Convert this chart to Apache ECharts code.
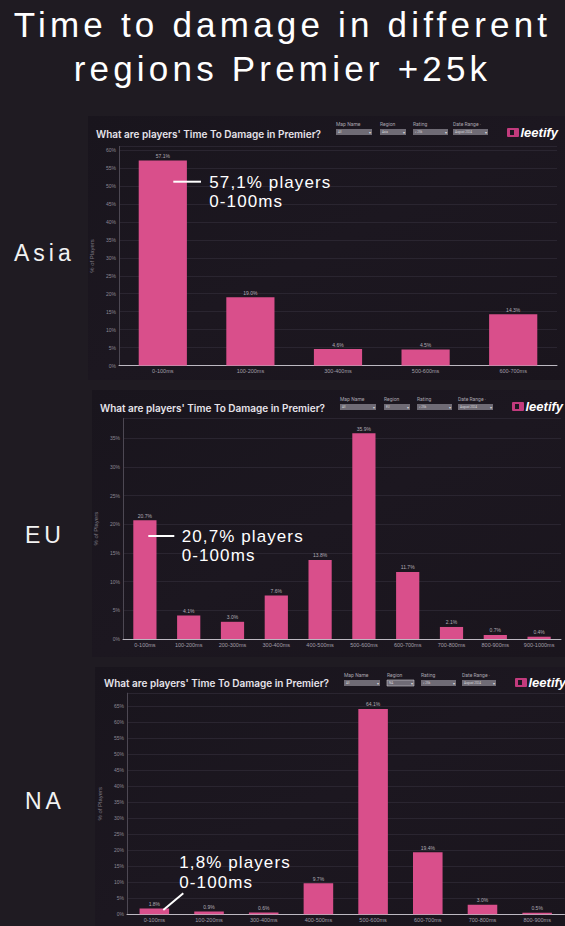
<!DOCTYPE html>
<html>
<head>
<meta charset="utf-8">
<script src="https://cdn.jsdelivr.net/npm/echarts@6/dist/echarts.min.js"></script>
<style>
html,body{margin:0;padding:0;background:#1f1b22;}
#c{width:565px;height:926px;}
#c text[style*="35px"]{letter-spacing:4.2px;}
#c text[style*="23px"]{letter-spacing:4px;}
#c text[style*="17px"]{letter-spacing:1.1px;}
</style>
</head>
<body>
<div id="c"></div>
<script>
const titleLines = ['Time to damage in different', 'regions Premier +25k'];
const regionNames = ['Asia', 'EU', 'NA'];
const panelTitle = "What are players' Time To Damage in Premier?";
const filterLabels = ['Map Name', 'Region', 'Rating', 'Date Range ·'];
const filterValues = [['All', 'Asia', '> 25k', 'August 2024'], ['All', 'EU', '> 25k', 'August 2024'], ['All', 'NA', '> 25k', 'August 2024']];

const asiaCategories = ['0-100ms', '100-200ms', '300-400ms', '500-600ms', '600-700ms'];
const asiaValues = [57.1, 19.0, 4.6, 4.5, 14.3];
const euCategories = ['0-100ms', '100-200ms', '200-300ms', '300-400ms', '400-500ms', '500-600ms', '600-700ms', '700-800ms', '800-900ms', '900-1000ms'];
const euValues = [20.7, 4.1, 3.0, 7.6, 13.8, 35.9, 11.7, 2.1, 0.7, 0.4];
const naCategories = ['0-100ms', '100-200ms', '300-400ms', '400-500ms', '500-600ms', '600-700ms', '700-800ms', '800-900ms'];
const naValues = [1.8, 0.9, 0.6, 9.7, 64.1, 19.4, 3.0, 0.5];
const annotations = [['57,1% players', '0-100ms'], ['20,7% players', '0-100ms'], ['1,8% players', '0-100ms']];
const yTickStep = 5;

const panels = [
  {cats: asiaCategories, vals: asiaValues, max: 61, grid: {left: 119, right: 8, top: 146.4, bottom: 560.4}, bw: '55%', rect: [88, 116, 477, 264], nameGap: 22,
   titleX: 96, titleY: 134, fx: [336, 380, 413, 453], fw: [36, 26, 35, 35], fy: 124, logoX: 507, logoY: 132.5},
  {cats: euCategories, vals: euValues, max: 38.5, grid: {left: 123, right: 4, top: 418.3, bottom: 287}, bw: '53%', rect: [92, 390, 473, 267], nameGap: 23,
   titleX: 100, titleY: 407.5, fx: [340, 384, 417, 458], fw: [36, 26, 35, 35], fy: 399, logoX: 512, logoY: 406.5},
  {cats: naCategories, vals: naValues, max: 69, grid: {left: 127, right: 0.5, top: 693.2, bottom: 11.7}, bw: '54%', rect: [95, 667, 470, 259], nameGap: 23,
   titleX: 104, titleY: 683, fx: [344, 387, 421, 462], fw: [36, 27, 35, 34], fy: 675, logoX: 515, logoY: 682.5}
];

const chart = echarts.init(document.getElementById('c'), null, {renderer: 'svg'});

const graphics = [];
panels.forEach((p, i) => {
  graphics.push({type: 'rect', z: -10, shape: {x: p.rect[0], y: p.rect[1], width: p.rect[2], height: p.rect[3]},
    style: {fill: new echarts.graphic.LinearGradient(0, 0, 1, 1, [{offset: 0, color: '#19151d'}, {offset: 0.5, color: '#1c1720'}, {offset: 1, color: '#1a151d'}])}});
  graphics.push({type: 'text', z: 50, x: p.titleX, y: p.titleY, style: {text: panelTitle, fill: '#e6e3ea', font: '600 10px Inter', textVerticalAlign: 'middle'}});
  filterLabels.forEach((lab, k) => {
    graphics.push({type: 'text', z: 50, x: p.fx[k], y: p.fy, style: {text: lab, fill: '#a8a4ad', font: '5px Roboto', textVerticalAlign: 'middle'}});
    graphics.push({type: 'rect', z: 50, shape: {x: p.fx[k], y: p.fy + 5, width: p.fw[k], height: 6}, style: {fill: '#6f6b75', stroke: (i === 2 && k === 1) ? '#c9c6cc' : null, lineWidth: 0.6}});
    graphics.push({type: 'text', z: 51, x: p.fx[k] + 2, y: p.fy + 8, style: {text: filterValues[i][k], fill: '#d8d6dc', font: '3px Roboto', textVerticalAlign: 'middle'}});
    graphics.push({type: 'text', z: 51, x: p.fx[k] + p.fw[k] - 3, y: p.fy + 8, style: {text: '▾', fill: '#d8d6dc', font: '4px Roboto', textVerticalAlign: 'middle'}});
  });
  graphics.push({type: 'rect', z: 50, shape: {x: p.logoX, y: p.logoY - 4.5, width: 12, height: 9, r: 1}, style: {fill: '#c23b7d'}});
  graphics.push({type: 'rect', z: 51, shape: {x: p.logoX + 3, y: p.logoY - 2.5, width: 4, height: 5}, style: {fill: '#1b1720'}});
  graphics.push({type: 'text', z: 50, x: p.logoX + 13.5, y: p.logoY, style: {text: 'leetify', fill: '#ffffff', font: 'italic bold 13px Liberation Sans', textVerticalAlign: 'middle'}});
});

// region labels
const regionPos = [[14, 253], [25, 535], [25, 801]];
regionNames.forEach((r, i) => {
  graphics.push({type: 'text', z: 50, x: regionPos[i][0], y: regionPos[i][1], style: {text: r, fill: '#f2f2f2', font: '23px Liberation Sans', textVerticalAlign: 'middle'}});
});

// annotations
const annPos = [[209.3, 182.3], [181.7, 536], [179.3, 862.7]];
annotations.forEach((a, i) => {
  graphics.push({type: 'text', z: 100, x: annPos[i][0], y: annPos[i][1], style: {text: a[0], fill: '#ffffff', font: '17px Liberation Sans', textVerticalAlign: 'middle'}});
  graphics.push({type: 'text', z: 100, x: annPos[i][0], y: annPos[i][1] + 19.4, style: {text: a[1], fill: '#ffffff', font: '17px Liberation Sans', textVerticalAlign: 'middle'}});
});
const annLines = [[173.3, 181.7, 201, 181.7], [148.3, 536, 174.3, 536], [163.3, 910, 183.3, 893.3]];
annLines.forEach(l => {
  graphics.push({type: 'line', z: 100, shape: {x1: l[0], y1: l[1], x2: l[2], y2: l[3]}, style: {stroke: '#ffffff', lineWidth: 2}});
});

chart.setOption({
  backgroundColor: '#1f1b22',
  animation: false,
  title: {text: titleLines.join('\n'), left: 'center', top: -3,
    textStyle: {color: '#ffffff', fontSize: 35, fontWeight: 'normal', fontFamily: 'Liberation Sans', lineHeight: 44}},
  graphic: graphics,
  grid: panels.map(p => Object.assign({containLabel: false}, p.grid)),
  xAxis: panels.map((p, i) => ({
    gridIndex: i, type: 'category', data: p.cats,
    axisLine: {lineStyle: {color: '#bdb9c2', width: 1}},
    axisTick: {show: false},
    axisLabel: {fontSize: 5.5, color: '#a29ea8', margin: 2.5, interval: 0}
  })),
  yAxis: panels.map((p, i) => ({
    gridIndex: i, type: 'value', min: 0, max: p.max, interval: yTickStep,
    name: '% of Players', nameLocation: 'middle', nameGap: p.nameGap,
    nameTextStyle: {fontSize: 6, color: '#7e7984'},
    axisLine: {show: true, lineStyle: {color: '#4d4853', width: 1}},
    axisTick: {show: false},
    axisLabel: {fontSize: 5, color: '#8d8893', margin: 3, showMaxLabel: false,
      formatter: v => (v % yTickStep === 0 ? v + '%' : '')},
    splitLine: {lineStyle: {color: '#2a2530', width: 1}}
  })),
  series: panels.map((p, i) => ({
    type: 'bar', xAxisIndex: i, yAxisIndex: i, data: p.vals, barWidth: p.bw,
    itemStyle: {color: '#d94f8b'},
    label: {show: true, position: 'top', distance: 2, fontSize: 5, color: '#b0abb5',
      formatter: d => d.value.toFixed(1) + '%'}
  }))
});
</script>
</body>
</html>
